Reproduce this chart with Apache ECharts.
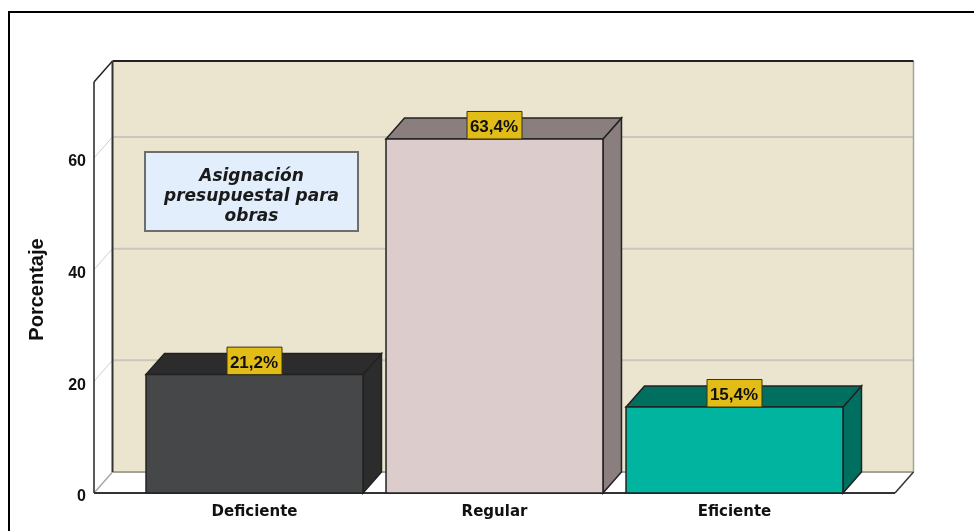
<!DOCTYPE html>
<html><head><meta charset="utf-8">
<style>html,body{margin:0;padding:0;background:#fff}#c{width:974px;height:531px}</style>
<script src="https://cdn.jsdelivr.net/npm/echarts@6/dist/echarts.min.js"></script>
</head><body><div id="c"></div>
<script>
const categories = ['Deficiente', 'Regular', 'Eficiente'];
const porcentajes = [21.2, 63.4, 15.4];
const yTicks = [0, 20, 40, 60];
const axisMax = 73.6;
const noteTitle = 'Asignación\npresupuestal para\nobras';

const frontColors = ['#464749', '#DCCCCC', '#00B49F'];
const depthColors = ['#2B2C2B', '#8A7E7E', '#006F60'];
const DX = 18.5, DY = -21, SIDE = 40.5, EDGE = '#222222';

const chart = echarts.init(document.getElementById('c'), null, {renderer: 'canvas'});

function poly(points, fill, stroke, lw) {
  return {type: 'polygon', shape: {points}, style: {fill, stroke: stroke || 'none', lineWidth: lw || 1}};
}
function seg(x1, y1, x2, y2, stroke, lw) {
  return {type: 'line', shape: {x1, y1, x2, y2}, style: {stroke, lineWidth: lw || 1, fill: 'none'}};
}

function renderRoom(params, api) {
  const cs = params.coordSys;
  const L = cs.x - SIDE, R = cs.x + cs.width + SIDE;
  const y0 = api.coord([0, 0])[1], yT = api.coord([0, axisMax])[1];
  const ch = [
    poly([[L + DX, yT + DY], [R + DX, yT + DY], [R + DX, y0 + DY], [L + DX, y0 + DY]], '#EBE5CF'),
    poly([[L, yT], [L + DX, yT + DY], [L + DX, y0 + DY], [L, y0]], '#FFFFFF'),
    poly([[L, y0], [L + DX, y0 + DY], [R + DX, y0 + DY], [R, y0]], '#FFFFFF')
  ];
  yTicks.slice(1).forEach(t => {
    const y = api.coord([0, t])[1];
    ch.push(seg(L + DX, y + DY, R + DX, y + DY, '#C9C6BA', 2));
    ch.push(seg(L, y, L + DX, y + DY, '#CFCFCA', 1));
  });
  ch.push(seg(L, y0, L + DX, y0 + DY, '#A8A8A8', 1.5));
  ch.push(seg(L + DX, y0 + DY, R + DX, y0 + DY, '#A5A39A', 2));
  ch.push(seg(R + DX, yT + DY, R + DX, y0 + DY, '#A5A39A', 1.5));
  ch.push(seg(L, yT, L + DX, yT + DY, '#222', 1.5));
  ch.push(seg(L + DX, yT + DY, R + DX, yT + DY, '#222', 2));
  ch.push(seg(L + DX, yT + DY, L + DX, y0 + DY, '#333', 2));
  ch.push(seg(L, yT, L, y0, '#222', 1.5));
  ch.push(seg(L, y0, R, y0, '#333', 2));
  ch.push(seg(R, y0, R + DX, y0 + DY, '#333', 1.5));
  return {type: 'group', children: ch};
}

function renderBar(params, api) {
  const i = api.value(0), v = api.value(1);
  const base = api.coord([i, 0]), top = api.coord([i, v]);
  const w = api.size([1, 0])[0] * 0.904;
  const x1 = base[0] - w / 2, x2 = base[0] + w / 2, y0 = base[1], y1 = top[1];
  const lw = 55, lh = 27.5;
  return {type: 'group', children: [
    poly([[x2, y1], [x2 + DX, y1 + DY], [x2 + DX, y0 + DY], [x2, y0]], depthColors[i], EDGE, 1.5),
    poly([[x1, y1], [x1 + DX, y1 + DY], [x2 + DX, y1 + DY], [x2, y1]], depthColors[i], EDGE, 1.5),
    poly([[x1, y1], [x2, y1], [x2, y0], [x1, y0]], frontColors[i], EDGE, 1.5),
    {type: 'rect', shape: {x: base[0] - lw / 2, y: y1 - lh, width: lw, height: lh},
      style: {fill: '#E2BC17', stroke: '#3A3310', lineWidth: 1}},
    {type: 'text', style: {
      text: porcentajes[i].toFixed(1).replace('.', ',') + '%',
      x: base[0] - 0.5, y: y1 - lh / 2 + 2.5, align: 'center', verticalAlign: 'middle',
      fill: '#111', font: 'bold 17px "Liberation Sans"'}}
  ]};
}

chart.setOption({
  animation: false,
  backgroundColor: '#fff',
  grid: {left: 134.5, width: 720, top: 82, height: 411, containLabel: false},
  xAxis: {
    type: 'category', data: categories,
    axisLine: {show: false}, axisTick: {show: false},
    axisLabel: {margin: 12, color: '#111', fontFamily: 'DejaVu Sans', fontWeight: 'bold', fontSize: 15}
  },
  yAxis: {
    type: 'value', min: 0, max: axisMax, interval: 20, offset: 40.5,
    name: 'Porcentaje', nameLocation: 'middle', nameGap: 47, nameRotate: 90,
    nameTextStyle: {color: '#111', fontFamily: 'Liberation Sans', fontSize: 20, fontWeight: 'bold', padding: [0, 4, 0, 0]},
    axisLine: {show: false}, axisTick: {show: false}, splitLine: {show: false},
    axisLabel: {margin: 8, showMaxLabel: false, color: '#111', verticalAlign: 'top', lineHeight: 8,
      fontFamily: 'Liberation Sans', fontWeight: 'bold', fontSize: 16,
      formatter: v => yTicks.includes(v) ? String(v) : ''}
  },
  graphic: [
    {type: 'rect', silent: true, shape: {x: 9, y: 12, width: 1100, height: 700},
      style: {fill: 'none', stroke: '#000', lineWidth: 2}},
    {type: 'rect', z: 50, shape: {x: 145, y: 152, width: 213, height: 79},
      style: {fill: '#E2EEFB', stroke: '#6E6E6E', lineWidth: 2}},
    {type: 'text', z: 51, style: {x: 251.5, y: 196.5, text: noteTitle, align: 'center', verticalAlign: 'middle',
      fill: '#1A1A1A', lineHeight: 20, font: 'italic bold 17px "DejaVu Sans"'}}
  ],
  series: [
    {type: 'custom', z: 1, data: [[0, 0]], encode: {x: 0, y: 1}, renderItem: renderRoom, silent: true},
    {type: 'custom', z: 3, data: porcentajes.map((v, i) => [i, v]), encode: {x: 0, y: 1}, renderItem: renderBar}
  ]
});
</script></body></html>
